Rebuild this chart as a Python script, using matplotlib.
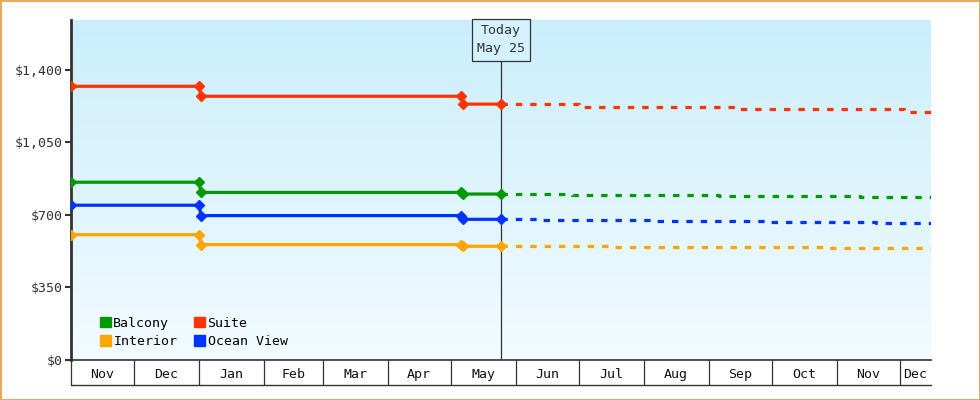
import numpy as np
import matplotlib.pyplot as plt
import matplotlib.dates as mdates
from matplotlib.patches import Patch
from datetime import date

# ---- data ----
series = ["Balcony", "Interior", "Suite", "Ocean View"]
colors = {"Balcony": "#009900", "Interior": "#ffa500", "Suite": "#ff3300", "Ocean View": "#0033ff"}

hist_dates = [date(2024, 11, 1), date(2025, 1, 1), date(2025, 1, 2),
              date(2025, 5, 6), date(2025, 5, 7), date(2025, 5, 25)]
hist_vals = {
    "Suite":      [1321, 1321, 1273, 1273, 1235, 1235],
    "Balcony":    [858, 858, 809, 809, 801, 801],
    "Ocean View": [747, 747, 697, 697, 679, 679],
    "Interior":   [605, 605, 557, 557, 549, 549],
}

fc_dates = {
    "Suite":      [date(2025, 5, 25), date(2025, 7, 1), date(2025, 9, 16), date(2025, 12, 3), date(2025, 12, 17)],
    "Balcony":    [date(2025, 5, 25), date(2025, 6, 28), date(2025, 9, 6), date(2025, 11, 12), date(2025, 12, 17)],
    "Ocean View": [date(2025, 5, 25), date(2025, 6, 13), date(2025, 8, 5), date(2025, 9, 30), date(2025, 11, 20), date(2025, 12, 17)],
    "Interior":   [date(2025, 5, 25), date(2025, 7, 16), date(2025, 10, 27), date(2025, 12, 17)],
}
fc_vals = {
    "Suite":      [1235, 1223, 1211, 1196, 1196],
    "Balcony":    [801, 795, 790, 785, 785],
    "Ocean View": [679, 674, 669, 664, 660, 660],
    "Interior":   [549, 544, 539, 539],
}

month_starts = [date(2024, 11, 1), date(2024, 12, 1)] + [date(2025, m, 1) for m in range(1, 13)]
month_labels = ["Nov", "Dec", "Jan", "Feb", "Mar", "Apr", "May", "Jun", "Jul", "Aug", "Sep", "Oct", "Nov", "Dec"]
x_end = date(2025, 12, 16)
today = date(2025, 5, 25)
y_ticks = [0, 350, 700, 1050, 1400]

# ---- figure ----
plt.rcParams['font.family'] = ['DejaVu Sans Mono']
fig = plt.figure(figsize=(9.8, 4), dpi=100)
fig.patch.set_edgecolor("#e8a860")
fig.patch.set_linewidth(2)
ax = fig.add_axes([71/980, 40/400, 860/980, 340/400])

x0, x1 = mdates.date2num(month_starts[0]), mdates.date2num(x_end)
ax.set_xlim(x0, x1)
ax.set_ylim(0, 1641)

# gradient background
grad = np.linspace(0, 1, 256)[:, None]
ax.imshow(grad, extent=[x0, x1, 0, 1641], aspect="auto", origin="lower",
          cmap=plt.matplotlib.colors.LinearSegmentedColormap.from_list("bg", ["#f3fbff", "#cbeefc"]),
          zorder=0)

for s in ["Suite", "Balcony", "Ocean View", "Interior"]:
    c = colors[s]
    ax.plot(hist_dates, hist_vals[s], color=c, lw=2.3, marker="D", ms=5.5, zorder=3)
    ax.plot(fc_dates[s], fc_vals[s], color=c, lw=2.3, drawstyle="steps-post",
            dashes=(2, 2.5), zorder=3)

# today line + box
ax.axvline(mdates.date2num(today), ymin=0, ymax=(340-40)/340, color="#333333", lw=0.9, zorder=2)
ax.text(mdates.date2num(today), 1545, "Today\nMay 25", ha="center", va="center", fontsize=9.5,
        color="#333333", linespacing=1.5,
        bbox=dict(boxstyle="square,pad=0.4", fc="#d4f2fd", ec="#333333", lw=0.9), zorder=4)

# y axis
ax.set_yticks(y_ticks)
ax.set_yticklabels([f"${v:,}" for v in y_ticks], fontsize=9.5, color="#333333")
ax.tick_params(axis="y", length=4, width=1.5, color="#333333", pad=2)

# x axis: month cells
mids = [mdates.date2num(a) + (mdates.date2num(b) - mdates.date2num(a)) / 2
        for a, b in zip(month_starts, month_starts[1:] + [x_end])]
mids[-1] = mdates.date2num(month_starts[-1]) + (x1 - mdates.date2num(month_starts[-1])) / 2
ax.set_xticks(mids)
ax.set_xticklabels(month_labels, fontsize=9.5, color="#111111")
ax.tick_params(axis="x", length=0, pad=6)
ax.set_xticks([mdates.date2num(d) for d in month_starts], minor=True)
ax.tick_params(axis="x", which="minor", length=18, width=0.9, color="#333333")
ax.plot([0, 1], [-25/340, -25/340], transform=ax.transAxes, color="#333333", lw=1, clip_on=False)

for sp in ["top", "right"]:
    ax.spines[sp].set_visible(False)
ax.spines["left"].set_linewidth(2)
ax.spines["left"].set_color("#333333")
ax.spines["bottom"].set_linewidth(1.2)
ax.spines["bottom"].set_color("#333333")

handles = [Patch(color=colors[s]) for s in series]
leg = ax.legend(handles, series, ncol=2, loc="lower left", frameon=False, fontsize=9.5,
                handlelength=0.8, handleheight=0.8, handletextpad=0.2, columnspacing=1.3,
                labelspacing=0.4, bbox_to_anchor=(0.02, 0.0))

fig.savefig("out.png", dpi=100, edgecolor=fig.get_edgecolor())
